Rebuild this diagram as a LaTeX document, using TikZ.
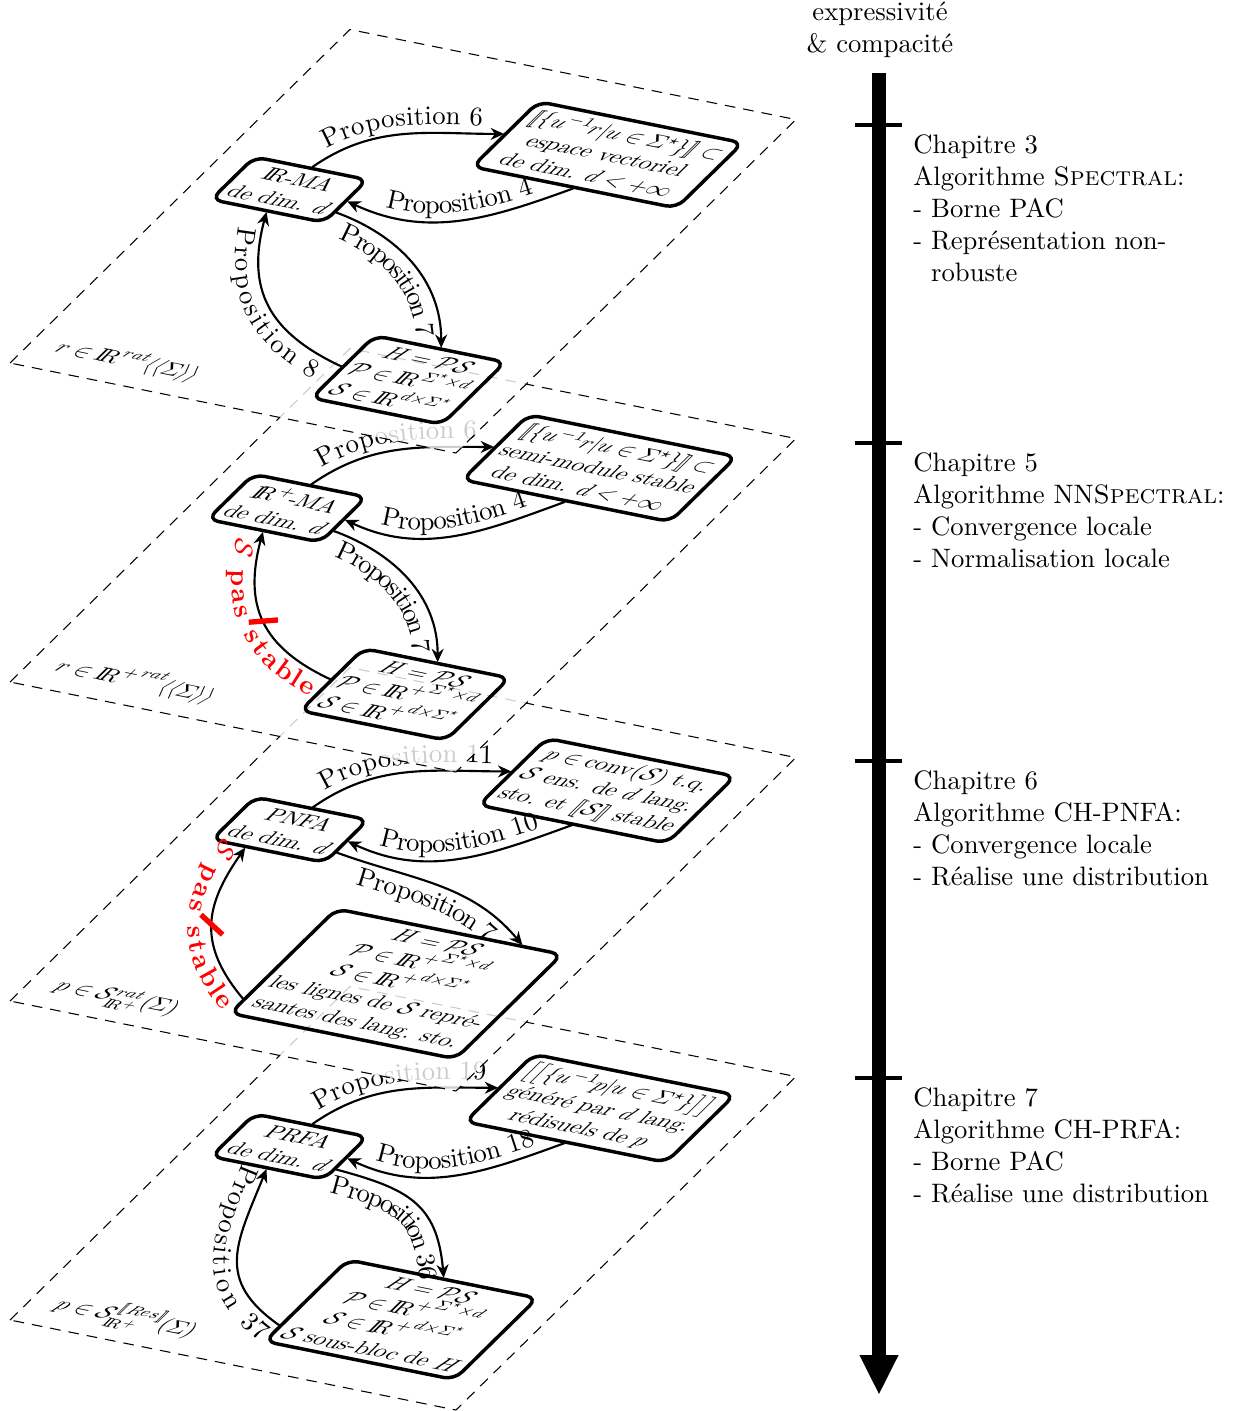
\documentclass[tikz,border=0pt]{standalone}
\usepackage{amsmath}
\usepackage{amssymb}
\usetikzlibrary{arrows.meta,decorations.text}

\newcommand{\IR}{\mathrm{I\!R}}
\newcommand{\dbr}[1]{[\![#1]\!]}

\tikzset{
  inplane/.style={cm={0.862,-0.174,0.628,0.616,(#1)}, x=1pt, y=1pt},
  planbox/.style={draw, dash pattern=on 4pt off 3pt, fill=white, fill opacity=0.8},
  planlabel/.style={anchor=base west, transform shape},
  etat/.style={draw, line width=1.3pt, rounded corners=4pt, align=center, transform shape},
  fleche/.style={-{Stealth[length=5pt,width=4.5pt]}, thick},
  propdessus/.style={postaction={decorate, decoration={text along path, text={#1}, text align=center, raise=3pt}}},
  propdessusinv/.style={postaction={decorate, decoration={text along path, text={#1}, text align=center, reverse path, raise=3pt}}},
  propdessous/.style={postaction={decorate, decoration={text along path, text={#1}, text align=center, raise=-9pt}}},
  propdessousinv/.style={postaction={decorate, decoration={text along path, text={#1}, text align=center, reverse path, raise=-9pt}}},
  barre/.style={sloped, fill=red, inner sep=0pt, minimum width=2pt, minimum height=11pt},
  chapitre/.style={anchor=north west, align=left},
  axe/.style={line width=5.3pt, -{Triangle[width=13.5pt,length=15pt]}},
  graduation/.style={line width=1.5pt}
}

\begin{document}
\begin{tikzpicture}[x=0.375pt, y=0.375pt]
  \useasboundingbox (0,0) rectangle (1238,-1411);

  % plan 4 : PRFA
  \begin{scope}[inplane={10,-1320}]
    \draw[planbox] (0,0) rectangle (194,203);
    \node[planlabel] (l4) at (8,10) {$p\in\mathcal{S}^{\dbr{Res}}_{\IR^+}(\Sigma)$};
    \node[etat] (a4) at (37,116) {PRFA\\de dim. $d$};
    \node[etat] (b4) at (135,167) {$\left[\left[\{u^{-1}p|u\in\Sigma^\star\}\right]\right]$\\généré par $d$ lang.\\rédisuels de $p$};
    \node[etat] (c4) at (141,40) {$H=\mathcal{P}\mathcal{S}$\\$\mathcal{P}\in{\IR^+}^{\Sigma^\star\times d}$\\$\mathcal{S}\in{\IR^+}^{d\times\Sigma^\star}$\\$\mathcal{S}$ sous-bloc de $H$};
  \end{scope}
  \draw[fleche, propdessus={Proposition 19}] (a4.north) to[out=35,in=180] (b4.west);
  \draw[fleche, propdessusinv={Proposition 18}] (b4.south) to[out=200,in=-25] (a4.east);
  \draw[fleche, propdessous={Proposition 36}] (a4.-15) to[out=-15,in=95,looseness=1.25] (c4.north);
  \draw[fleche, propdessousinv={Proposition 37}] (c4.200) to[out=145,in=-112,looseness=1.3] (a4.south);

  % plan 3 : PNFA
  \begin{scope}[inplane={10,-1001}]
    \draw[planbox] (0,0) rectangle (194,203);
    \node[planlabel] (l3) at (8,10) {$p\in\mathcal{S}^{rat}_{\IR^+}(\Sigma)$};
    \node[etat] (a3) at (38,115) {PNFA\\de dim. $d$};
    \node[etat] (b3) at (138,167) {$p\in\mathrm{conv}(\mathcal{S})$ t.q.\\$\mathcal{S}$ ens. de $d$ lang.\\sto. et $\dbr{\mathcal{S}}$ stable};
    \node[etat] (c3) at (133,48) {$H=\mathcal{P}\mathcal{S}$\\$\mathcal{P}\in{\IR^+}^{\Sigma^\star\times d}$\\$\mathcal{S}\in{\IR^+}^{d\times\Sigma^\star}$\\les lignes de $\mathcal{S}$ repré-\\santes des lang. sto.};
  \end{scope}
  \draw[fleche, propdessus={Proposition 11}] (a3.north) to[out=35,in=180] (b3.west);
  \draw[fleche, propdessusinv={Proposition 10}] (b3.south) to[out=200,in=-25] (a3.east);
  \draw[fleche, propdessous={Proposition 7}] (a3.-15) to[out=-20,in=130] (c3.46);
  \draw[fleche, propdessousinv={|\color{red}\bfseries|{$\mathcal{S}$} pas stable}] (c3.205) to[out=130,in=-125,looseness=1.2] node[pos=0.5, barre, rotate=-40] (x3) {} (a3.235);

  % plan 2 : R+-MA
  \begin{scope}[inplane={10,-682}]
    \draw[planbox] (0,0) rectangle (194,203);
    \node[planlabel] (l2) at (8,10) {$r\in{\IR^+}^{rat}\langle\langle\Sigma\rangle\rangle$};
    \node[etat] (a2) at (36,116) {$\IR^+$-MA\\de dim. $d$};
    \node[etat] (b2) at (134,168) {$\dbr{\{u^{-1}r|u\in\Sigma^\star\}}\subset$\\semi-module stable\\de dim. $d<+\infty$};
    \node[etat] (c2) at (147,34) {$H=\mathcal{P}\mathcal{S}$\\$\mathcal{P}\in{\IR^+}^{\Sigma^\star\times d}$\\$\mathcal{S}\in{\IR^+}^{d\times\Sigma^\star}$};
  \end{scope}
  \draw[fleche, propdessus={Proposition 6}] (a2.north) to[out=35,in=180] (b2.west);
  \draw[fleche, propdessusinv={Proposition 4}] (b2.south) to[out=200,in=-25] (a2.east);
  \draw[fleche, propdessous={Proposition 7}] (a2.-15) to[out=-20,in=90] (c2.north);
  \draw[fleche, propdessousinv={|\color{red}\bfseries|{$\mathcal{S}$} pas stable}] (c2.west) to[out=155,in=-105,looseness=1.2] node[pos=0.5, barre, rotate=-20] (x2) {} (a2.south);

  % plan 1 : R-MA
  \begin{scope}[inplane={10,-363}]
    \draw[planbox] (0,0) rectangle (194,203);
    \node[planlabel] (l1) at (8,10) {$r\in\IR^{rat}\langle\langle\Sigma\rangle\rangle$};
    \node[etat] (a1) at (37,116) {$\IR$-MA\\de dim. $d$};
    \node[etat] (b1) at (139,166) {$\dbr{\{u^{-1}r|u\in\Sigma^\star\}}\subset$\\espace vectoriel\\de dim. $d<+\infty$};
    \node[etat] (c1) at (150,32) {$H=\mathcal{P}\mathcal{S}$\\$\mathcal{P}\in\IR^{\Sigma^\star\times d}$\\$\mathcal{S}\in\IR^{d\times\Sigma^\star}$};
  \end{scope}
  \draw[fleche, propdessus={Proposition 6}] (a1.north) to[out=35,in=180] (b1.west);
  \draw[fleche, propdessusinv={Proposition 4}] (b1.south) to[out=200,in=-25] (a1.east);
  \draw[fleche, propdessous={Proposition 7}] (a1.-15) to[out=-20,in=90] (c1.north);
  \draw[fleche, propdessousinv={Proposition 8}] (c1.west) to[out=155,in=-105,looseness=1.2] (a1.south);

  % axe des chapitres
  \node[align=center] (titre) at (880,-30) {expressivité\\\& compacité};
  \coordinate (haut) at (879,-73);
  \coordinate (bas) at (879,-1395);
  \draw[axe] (haut) -- (bas);
  \draw[graduation] (855,-125) -- (902,-125);
  \draw[graduation] (855,-443) -- (902,-443);
  \draw[graduation] (855,-761) -- (902,-761);
  \draw[graduation] (855,-1078) -- (902,-1078);

  \node[chapitre] (chap3) at (904,-125) {Chapitre 3\\Algorithme \textsc{Spectral}:\\- Borne PAC\\- Représentation non-\\\phantom{- }robuste};
  \node[chapitre] (chap5) at (904,-443) {Chapitre 5\\Algorithme NN\textsc{Spectral}:\\- Convergence locale\\- Normalisation locale};
  \node[chapitre] (chap6) at (904,-761) {Chapitre 6\\Algorithme CH-PNFA:\\- Convergence locale\\- Réalise une distribution};
  \node[chapitre] (chap7) at (904,-1078) {Chapitre 7\\Algorithme CH-PRFA:\\- Borne PAC\\- Réalise une distribution};
\end{tikzpicture}
\end{document}
